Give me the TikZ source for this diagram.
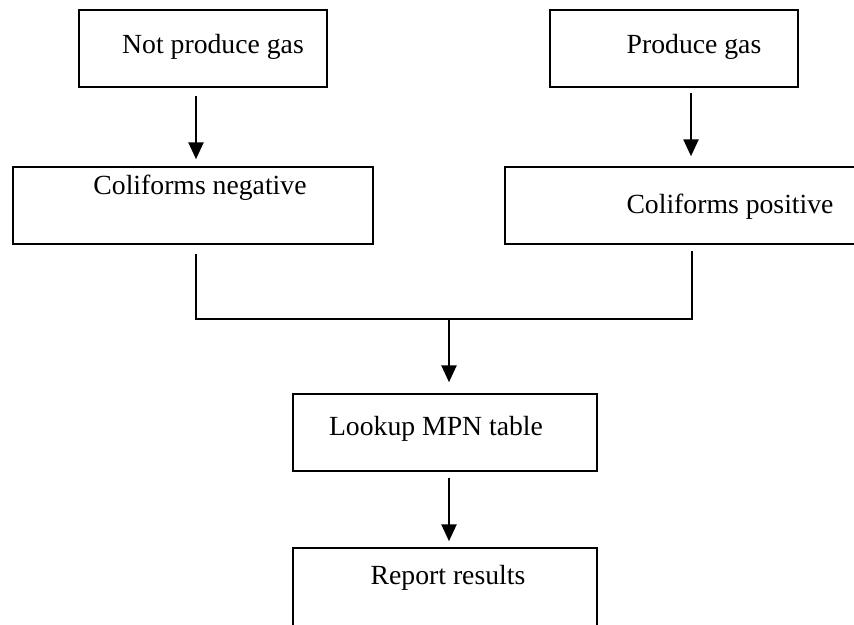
\documentclass[tikz,border=0pt]{standalone}
\usepackage{fontspec}
\setmainfont{Liberation Serif}
\usetikzlibrary{arrows.meta}
\begin{document}
\begin{tikzpicture}[x=1pt,y=-1pt,
  stepbox/.style={draw=black,line width=1.5pt,rectangle,inner sep=0pt},
  txt/.style={anchor=base,inner sep=0pt,font=\fontsize{27.7}{32}\selectfont},
  flow/.style={draw=black,line width=2.6pt,-{Triangle[length=17pt,width=15pt]}},
  link/.style={draw=black,line width=1.6pt}]
\useasboundingbox (0,0) rectangle (854,624);
\clip (0,0) rectangle (854,624);

% boxes
\node[stepbox,minimum width=248pt,minimum height=77pt] (nogas) at (203,48.5) {};
\node[stepbox,minimum width=248pt,minimum height=77pt] (gas)   at (674,48.5) {};
\node[stepbox,minimum width=360pt,minimum height=77pt] (neg)   at (193,205.5) {};
\node[stepbox,minimum width=375pt,minimum height=77pt] (pos)   at (692.5,205.5) {};
\node[stepbox,minimum width=304pt,minimum height=77pt] (mpn)   at (445,432.5) {};
\node[stepbox,minimum width=304pt,minimum height=100pt] (rep)  at (445,598) {};

% labels
\node[txt] (tnogas) at (213,53)  {Not produce gas};
\node[txt] (tgas)   at (694,53)  {Produce gas};
\node[txt] (tneg)   at (200,194) {Coliforms negative};
\node[txt] (tpos)   at (730,213) {Coliforms positive};
\node[txt] (tmpn)   at (436,435) {Lookup MPN table};
\node[txt] (trep)   at (448,584) {Report results};

% arrows from the gas tests
\draw[flow] ([xshift=-7pt,yshift=-8pt]nogas.south) -- ([xshift=3pt,yshift=7pt]neg.north);
\draw[flow] ([xshift=17pt,yshift=-5pt]gas.south) -- ([xshift=-1.5pt,yshift=10pt]pos.north);

% merging bracket
\coordinate (join) at (449,319);
\draw[link] ([xshift=3pt,yshift=-9pt]neg.south) |- (join)
  -| ([xshift=-0.5pt,yshift=-6pt]pos.south);
\draw[flow] (join) -- ([xshift=4pt,yshift=11pt]mpn.north);
\draw[flow] ([xshift=4pt,yshift=-6pt]mpn.south) -- ([xshift=4pt,yshift=6pt]rep.north);
\end{tikzpicture}
\end{document}
